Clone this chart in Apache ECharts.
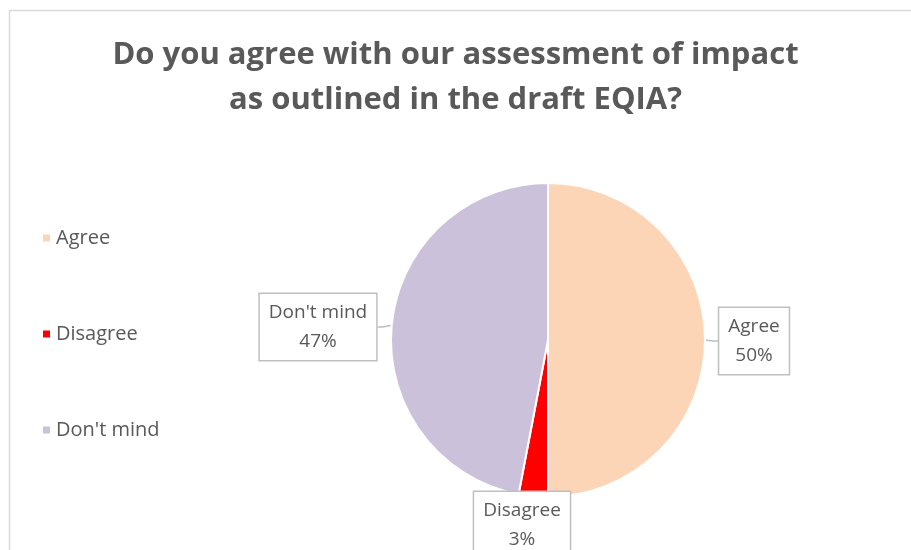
<!DOCTYPE html>
<html><head><meta charset="utf-8">
<script src="https://cdn.jsdelivr.net/npm/echarts@6/dist/echarts.min.js"></script>
<style>html,body{margin:0;padding:0;background:#fff;}#c{width:911px;height:550px;}</style>
</head><body><div id="c"></div>
<script>
const categories = ["Agree", "Disagree", "Don't mind"];
const values = [50, 3, 47];
const colors = ["#FBD5B5", "#FF0000", "#CCC1DA"];
const titleText = "Do you agree with our assessment of impact\nas outlined in the draft EQIA?";

const labelPos = [[754, 341], [522, 525], [318, 327]];

const chart = echarts.init(document.getElementById('c'));
chart.setOption({
  animation: false,
  graphic: [{type:'rect', shape:{x:9.5, y:10.5, width:1000, height:1000}, style:{fill:'none', stroke:'#d9d9d9', lineWidth:1.5}, silent:true}],
  title: {
    text: titleText, left: 'center', top: 28,
    textStyle: {fontFamily: 'Open Sans', fontWeight: 'bold', fontSize: 31, color: '#595959', lineHeight: 45}
  },
  legend: {
    orient: 'vertical', left: 36, top: 223, itemGap: 76,
    itemWidth: 9, itemHeight: 9, icon: 'rect',
    textStyle: {fontFamily: 'Open Sans', fontSize: 20, color: '#595959'},
    data: categories
  },
  series: [{
    type: 'pie', center: [548, 340], radius: 157, startAngle: 90, clockwise: true,
    itemStyle: {borderColor: '#fff', borderWidth: 2},
    label: {
      formatter: p => p.name + '\n' + Math.round(p.percent) + '%',
      fontFamily: 'Open Sans', fontSize: 19, color: '#595959', lineHeight: 29,
      backgroundColor: '#fff', borderColor: '#bfbfbf', borderWidth: 1.5,
      padding: [4, 9], align: 'center'
    },
    labelLine: {show: true, length: 5, length2: 5, lineStyle: {color: '#bfbfbf', width: 1.5}},
    labelLayout: p => ({x: labelPos[p.dataIndex][0], y: labelPos[p.dataIndex][1], align: 'center', verticalAlign: 'middle'}),
    data: categories.map((c, i) => ({name: c, value: values[i], itemStyle: {color: colors[i]}}))
  }]
});
</script></body></html>
